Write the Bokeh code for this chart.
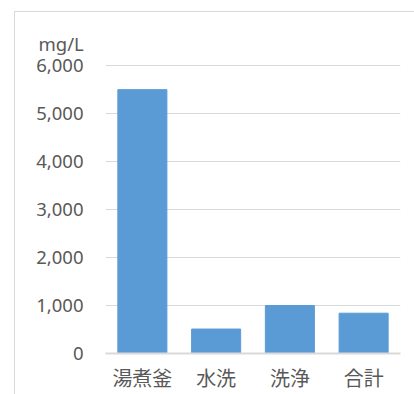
from bokeh.plotting import figure
from bokeh.models import FactorRange, Range1d, NumeralTickFormatter, FixedTicker
from bokeh.embed import file_html
from bokeh.resources import INLINE

# Concentration per process step (mg/L)
categories = ["湯煮釜", "水洗", "洗浄", "合計"]
values = [5500, 510, 1000, 840]
y_ticks = [0, 1000, 2000, 3000, 4000, 5000, 6000]
unit_label = "mg/L"

TEXT = "#595959"
GRID = "#d9d9d9"
BAR = "#5b9bd5"
EDGE = "#d9d9d9"

p = figure(
    width=414, height=394,
    x_range=FactorRange(*categories),
    y_range=Range1d(0, 6170),
    output_backend="svg", toolbar_location=None,
    min_border_left=105, min_border_right=14,
    min_border_top=57, min_border_bottom=41,
    background_fill_color="white", border_fill_color=None,
    outline_line_color=None,
    title=unit_label,
)

# thin chart-area border along the top and left edges
p.styles = {
    "background": (
        f"linear-gradient({EDGE},{EDGE}) 14px 11px / 400px 1px no-repeat, "
        f"linear-gradient({EDGE},{EDGE}) 14px 11px / 1px 383px no-repeat, white"
    ),
}

# unit caption above the value labels
p.title.align = "left"
p.title.offset = -67
p.title.standoff = 4
p.title.text_font = "Noto Sans"
p.title.text_font_size = "18.5px"
p.title.text_font_style = "normal"
p.title.text_color = TEXT

p.vbar(x=categories, top=values, width=0.665, color=BAR, line_color=BAR)

# y axis: labels only, horizontal grid lines
p.yaxis.ticker = FixedTicker(ticks=y_ticks)
p.yaxis.formatter = NumeralTickFormatter(format="0,0")
p.yaxis.axis_line_color = None
p.yaxis.major_tick_line_color = None
p.yaxis.minor_tick_line_color = None
p.yaxis.major_tick_out = 0
p.yaxis.minor_tick_out = 0
p.yaxis.major_label_standoff = 22
p.yaxis.major_label_text_font = "Noto Sans"
p.yaxis.major_label_text_font_size = "18.5px"
p.yaxis.major_label_text_color = TEXT
p.ygrid.grid_line_color = GRID
p.ygrid.grid_line_width = 1
p.xgrid.grid_line_color = None

# x axis: baseline and category names
p.xaxis.axis_line_color = GRID
p.xaxis.axis_line_width = 2
p.xaxis.major_tick_line_color = None
p.xaxis.minor_tick_line_color = None
p.xaxis.major_tick_out = 0
p.xaxis.minor_tick_out = 0
p.xaxis.major_label_standoff = 9
p.xaxis.major_label_text_font = "Noto Sans CJK JP"
p.xaxis.major_label_text_font_size = "20px"
p.xaxis.major_label_text_color = TEXT

open("out.html", "w").write(file_html(p, INLINE))
